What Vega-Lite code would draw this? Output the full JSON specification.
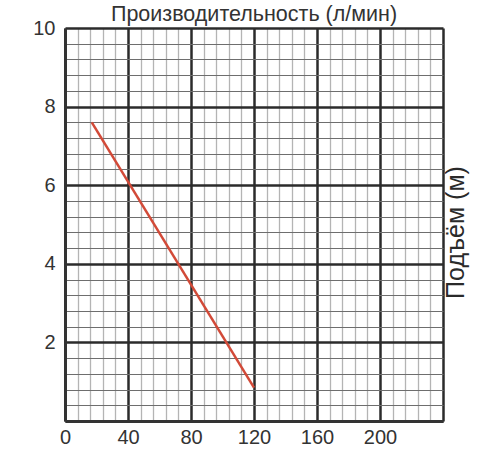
{
  "$schema": "https://vega.github.io/schema/vega-lite/v6.json",
  "width": 378,
  "height": 393,
  "autosize": "none",
  "padding": {"left": 65, "top": 28, "right": 57, "bottom": 29},
  "background": "white",
  "config": {
    "view": {"stroke": null},
    "font": "Liberation Sans",
    "axis": {"labelFont": "Liberation Sans", "titleFont": "Liberation Sans"}
  },
  "title": {
    "text": "Производительность (л/мин)",
    "fontSize": 21.5,
    "fontWeight": "normal",
    "color": "#333",
    "offset": -7,
    "anchor": "middle",
    "frame": "group"
  },
  "data": {
    "values": [
      {"flow": 17, "head": 7.6},
      {"flow": 120, "head": 0.85}
    ]
  },
  "layer": [
    {
      "mark": {"type": "line", "color": "#d24a38", "strokeWidth": 2.5},
      "encoding": {
        "x": {
          "field": "flow",
          "type": "quantitative",
          "scale": {"domain": [0, 240], "nice": false, "zero": false},
          "axis": {
            "title": null,
            "values": [0, 8, 16, 24, 32, 40, 48, 56, 64, 72, 80, 88, 96, 104, 112, 120, 128, 136, 144, 152, 160, 168, 176, 184, 192, 200, 208, 216, 224, 232, 240],
            "labelExpr": "datum.value % 40 === 0 && datum.value <= 200 ? format(datum.value, 'd') : ''",
            "labelFontSize": 20,
            "labelColor": "#333",
            "labelPadding": 6,
            "labelFlush": false,
            "labelOverlap": false,
            "ticks": false,
            "domain": true,
            "domainColor": "#333",
            "domainWidth": 3,
            "grid": true,
            "gridColor": {"condition": {"test": "datum.value % 40 === 0", "value": "#2b2b2b"}, "value": "#b4b4b4"},
            "gridWidth": {"condition": {"test": "datum.value % 40 === 0", "value": 2.5}, "value": 1.3},
            "gridOpacity": 1,
            "zindex": 0
          }
        },
        "y": {
          "field": "head",
          "type": "quantitative",
          "scale": {"domain": [0, 10], "nice": false, "zero": false},
          "axis": {
            "title": null,
            "values": [0, 0.4, 0.8, 1.2, 1.6, 2, 2.4, 2.8, 3.2, 3.6, 4, 4.4, 4.8, 5.2, 5.6, 6, 6.4, 6.8, 7.2, 7.6, 8, 8.4, 8.8, 9.2, 9.6, 10],
            "labelExpr": "abs(datum.value / 2 - round(datum.value / 2)) < 0.001 && datum.value > 0 ? format(datum.value, 'd') : ''",
            "labelFontSize": 20,
            "labelColor": "#333",
            "labelPadding": 10,
            "labelFlush": false,
            "labelOverlap": false,
            "ticks": false,
            "domain": true,
            "domainColor": "#333",
            "domainWidth": 3,
            "grid": true,
            "gridColor": {"condition": {"test": "abs(datum.value / 2 - round(datum.value / 2)) < 0.001", "value": "#2b2b2b"}, "value": "#6e6e6e"},
            "gridWidth": {"condition": {"test": "abs(datum.value / 2 - round(datum.value / 2)) < 0.001", "value": 2.5}, "value": 1.2},
            "gridOpacity": 1,
            "zindex": 0
          }
        }
      }
    },
    {
      "mark": {"type": "line", "opacity": 0},
      "encoding": {
        "y": {
          "field": "head",
          "type": "quantitative",
          "axis": {
            "orient": "right",
            "title": "Подъём (м)",
            "titleFontSize": 25,
            "titleFontWeight": "normal",
            "titleColor": "#2a2a2a",
            "titleAngle": 270,
            "titleAlign": "center",
            "titleBaseline": "middle",
            "titleX": 12,
            "titleY": 204,
            "labels": false,
            "ticks": false,
            "domain": false,
            "grid": false
          }
        }
      }
    }
  ],
  "resolve": {"axis": {"y": "independent"}}
}
